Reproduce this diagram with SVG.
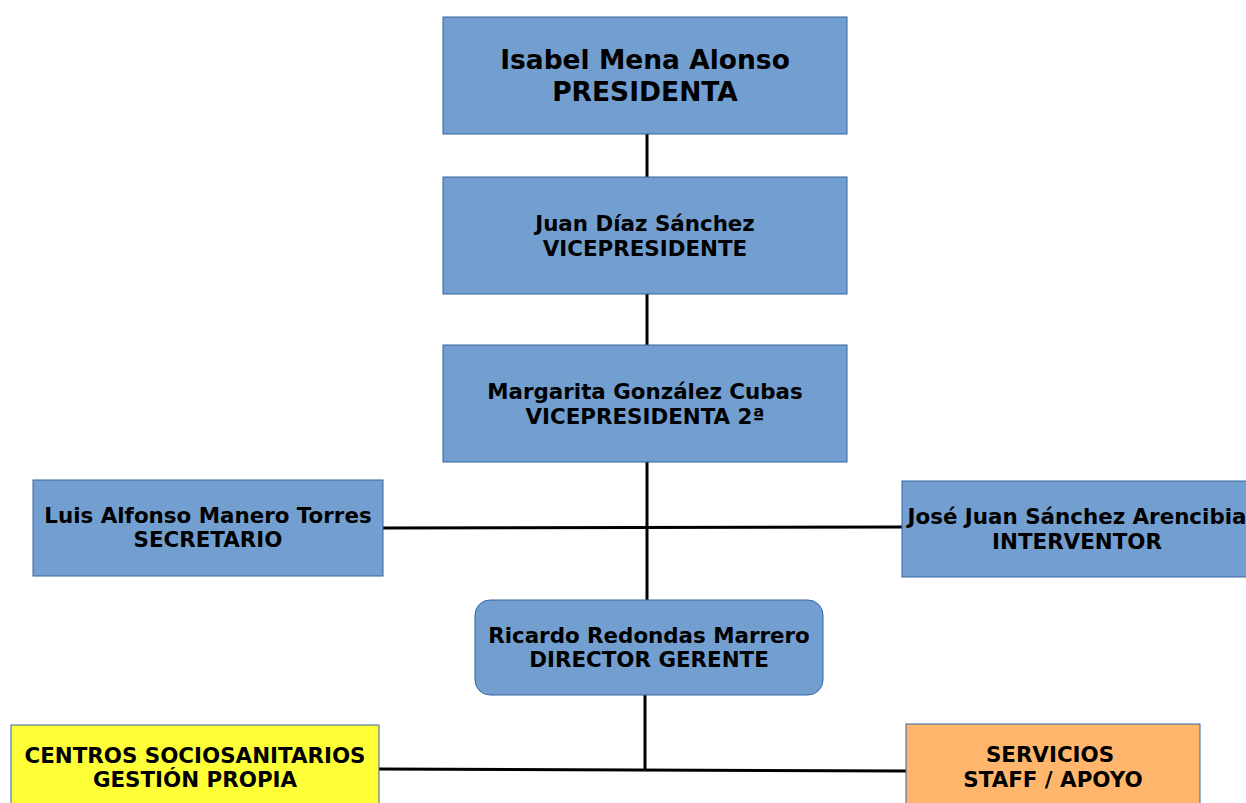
<svg xmlns="http://www.w3.org/2000/svg" width="1246" height="803" viewBox="0 0 1246 803">
<style>
.b{fill:#729fcf;stroke:#3465a4;stroke-width:1}
.y{fill:#ffff38;stroke:#3465a4;stroke-width:1}
.o{fill:#ffb66c;stroke:#3465a4;stroke-width:1}
text{font-family:"DejaVu Sans",sans-serif;font-weight:bold;fill:#000;text-anchor:middle}
.t{font-size:21.4px}
.big{font-size:26.5px}
.c{stroke:#000;stroke-width:3;fill:none}
</style>
<rect width="1246" height="803" fill="#fff"/>
<g id="connectors">
<line class="c" x1="647" y1="134" x2="647" y2="177"/>
<line class="c" x1="647" y1="294" x2="647" y2="345"/>
<line class="c" x1="647" y1="462" x2="647" y2="600"/>
<line class="c" x1="383" y1="528" x2="902" y2="527"/>
<line class="c" x1="645" y1="695" x2="645" y2="769"/>
<line class="c" x1="379" y1="769" x2="906" y2="771"/>
</g>
<g id="presidenta">
<rect class="b" x="443" y="17" width="404" height="117"/>
<text class="big" x="645" y="69">Isabel Mena Alonso</text>
<text class="big" x="645" y="101">PRESIDENTA</text>
</g>
<g id="vicepresidente">
<rect class="b" x="443" y="177" width="404" height="117"/>
<text class="t" x="645" y="231">Juan Díaz Sánchez</text>
<text class="t" x="645" y="256">VICEPRESIDENTE</text>
</g>
<g id="vicepresidenta2">
<rect class="b" x="443" y="345" width="404" height="117"/>
<text class="t" x="645" y="399">Margarita González Cubas</text>
<text class="t" x="645" y="424">VICEPRESIDENTA 2ª</text>
</g>
<g id="secretario">
<rect class="b" x="33" y="480" width="350" height="96"/>
<text class="t" x="208" y="523">Luis Alfonso Manero Torres</text>
<text class="t" x="208" y="547">SECRETARIO</text>
</g>
<g id="interventor">
<rect class="b" x="902" y="481" width="350" height="96"/>
<text class="t" x="1077" y="524">José Juan Sánchez Arencibia</text>
<text class="t" x="1077" y="549">INTERVENTOR</text>
</g>
<g id="director">
<rect class="b" x="475" y="600" width="348" height="95" rx="15"/>
<text class="t" x="649" y="643">Ricardo Redondas Marrero</text>
<text class="t" x="649" y="667">DIRECTOR GERENTE</text>
</g>
<g id="centros">
<rect class="y" x="11" y="725" width="368" height="90"/>
<text class="t" x="195" y="763">CENTROS SOCIOSANITARIOS</text>
<text class="t" x="195" y="787">GESTIÓN PROPIA</text>
</g>
<g id="servicios">
<rect class="o" x="906" y="724" width="294" height="90"/>
<text class="t" x="1050" y="762">SERVICIOS</text>
<text class="t" x="1053" y="787">STAFF / APOYO</text>
</g>
</svg>
